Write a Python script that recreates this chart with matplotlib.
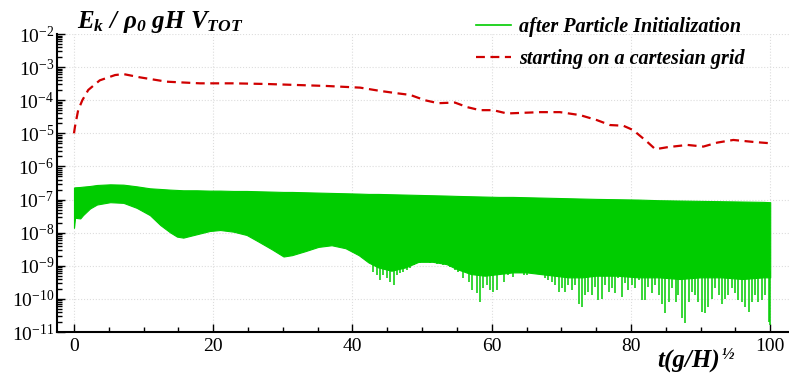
import numpy as np
import matplotlib.pyplot as plt
from matplotlib.lines import Line2D
from matplotlib.ticker import LogLocator, MultipleLocator, NullFormatter

plt.rcParams['font.family'] = ['Liberation Serif', 'DejaVu Serif']
plt.rcParams['mathtext.fontset'] = 'custom'
plt.rcParams['mathtext.default'] = 'regular'
plt.rcParams['mathtext.rm'] = 'Liberation Serif:italic:bold'
plt.rcParams['mathtext.it'] = 'Liberation Serif:italic:bold'
plt.rcParams['mathtext.bf'] = 'Liberation Serif:bold'

# red dashed curve (log10 of Ek)
t_red = [0, 0.14, 0.6, 1.2, 2.05, 3.7, 5.9, 7.1, 9.5, 13.3, 18.1, 22.9, 27.7, 32.0,
         36.3, 41.1, 44.0, 46.4, 48.3, 50.4, 52.3, 54.7, 56.5, 58.3, 60.2, 62.2, 64.5,
         67.0, 69.8, 72.7, 75.1, 77.0, 78.9, 80.3, 82.3, 83.5, 85.2, 88.1, 90.4, 92.4,
         94.7, 97.6, 100.0]
e_red = [-5.0, -4.8, -4.3, -4.0, -3.69, -3.40, -3.24, -3.21, -3.31, -3.44, -3.49, -3.49,
         -3.51, -3.54, -3.57, -3.62, -3.72, -3.79, -3.84, -4.0, -4.09, -4.07, -4.21, -4.30,
         -4.30, -4.40, -4.38, -4.36, -4.36, -4.45, -4.60, -4.75, -4.77, -4.90, -5.25, -5.48,
         -5.42, -5.35, -5.40, -5.28, -5.20, -5.26, -5.30]

# green band: upper and lower envelope (log10)
t_env = [0, 0.15, 0.9, 1.3, 2.3, 3.3, 5.2, 7.1, 9.0, 10.9, 12.4, 13.8, 14.8, 15.7, 17.6,
         19.5, 21.0, 22.9, 24.8, 26.5, 28.4, 30.1, 31.3, 33.2, 35.1, 37.0, 39.0, 40.9,
         42.3, 43.7, 45.6, 47.6, 49.5, 51.5, 53.5, 55.0, 57.0, 59.0, 61.0, 63.0, 65.0,
         67.0, 69.0, 71.0, 73.0, 75.0, 78.0, 81.0, 84.0, 87.0, 90.0, 93.0, 96.0, 99.0, 100.0]
e_up = [-6.64, -6.63, -6.62, -6.61, -6.59, -6.56, -6.54, -6.55, -6.60, -6.66, -6.68, -6.70,
        -6.71, -6.72, -6.72, -6.73, -6.73, -6.74, -6.74, -6.75, -6.76, -6.77, -6.77, -6.78,
        -6.79, -6.80, -6.81, -6.82, -6.83, -6.83, -6.84, -6.85, -6.86, -6.87, -6.88, -6.89,
        -6.90, -6.91, -6.92, -6.92, -6.93, -6.94, -6.95, -6.96, -6.97, -6.98, -6.99, -7.00,
        -7.02, -7.03, -7.04, -7.05, -7.06, -7.07, -7.08]
e_low = [-7.85, -7.55, -7.57, -7.47, -7.27, -7.15, -7.08, -7.10, -7.25, -7.47, -7.77, -7.99,
         -8.12, -8.15, -8.05, -7.95, -7.92, -7.97, -8.07, -8.27, -8.50, -8.72, -8.68, -8.56,
         -8.43, -8.38, -8.47, -8.68, -8.90, -9.05, -9.15, -9.05, -8.88, -8.88, -8.95, -9.10,
         -9.25, -9.30, -9.25, -9.20, -9.20, -9.25, -9.30, -9.35, -9.35, -9.30, -9.30, -9.35,
         -9.35, -9.40, -9.35, -9.35, -9.40, -9.35, -9.35]

# spikes below the band (log10 of minima)
t_spk = [42.5, 43.0, 43.5, 44.0, 44.4, 44.9, 45.4, 45.9, 46.4, 46.8, 47.3, 47.8, 48.3, 48.8,
         49.2, 49.7, 50.2, 51.15, 52.1, 53.06, 54.0, 54.7, 55.2, 55.9, 56.7, 57.1, 57.6,
         57.9, 58.3, 58.8, 59.3, 59.8, 60.2, 60.7, 61.2, 61.7, 62.4, 63.1, 63.6, 64.1, 64.6,
         65.0, 65.8, 66.2, 66.7, 67.2, 67.7, 68.1, 68.6, 69.1, 69.6, 70.1, 70.5, 71.0, 71.5,
         72.0, 72.5, 72.9, 73.4, 73.9, 74.4, 74.9, 75.3, 75.8, 76.3, 76.8, 77.3, 77.7, 78.2,
         78.7, 79.2, 79.6, 80.1, 80.6, 81.1, 81.6, 82.0, 82.5, 83.0, 83.5, 84.0, 84.4, 84.9,
         85.4, 85.9, 86.4, 86.8, 87.3, 87.8, 88.3, 88.7, 89.2, 89.7, 90.2, 90.7, 91.1, 91.6,
         92.1, 92.6, 93.1, 93.5, 94.0, 94.5, 95.0, 95.4, 95.9, 96.4, 96.9, 97.4, 97.8, 98.3,
         98.8, 99.3, 99.8, 100.0]
e_spk = [-8.93, -9.18, -9.28, -9.43, -9.28, -9.38, -9.48, -9.58, -9.28, -9.23, -9.18, -9.13,
         -9.08, -8.98, -8.93, -8.93, -8.88, -8.93, -8.96, -8.98, -9.03, -9.13, -9.18, -9.38,
         -9.48, -9.73, -9.28, -9.83, -10.09, -9.68, -9.58, -9.73, -9.78, -9.73, -9.28, -9.48,
         -9.28, -9.33, -9.13, -9.23, -9.28, -9.28, -9.23, -9.18, -9.05, -9.28, -9.38, -9.43,
         -9.48, -9.58, -9.78, -9.68, -9.78, -9.58, -9.73, -9.58, -10.14, -10.24, -9.89, -9.78,
         -9.89, -9.63, -10.04, -9.99, -9.58, -9.78, -9.68, -9.83, -9.38, -9.94, -9.53, -9.73,
         -9.58, -9.68, -9.43, -10.04, -10.04, -9.63, -9.83, -9.58, -9.89, -10.14, -10.44,
         -10.09, -9.68, -10.09, -9.89, -10.59, -10.74, -10.09, -9.78, -9.89, -10.09, -10.39,
         -10.44, -10.24, -9.99, -9.68, -9.89, -10.14, -9.99, -9.89, -9.68, -9.83, -10.04,
         -10.09, -10.24, -10.39, -10.09, -9.89, -10.09, -10.04, -9.89, -10.69, -10.8]

green = '#00cc00'
red = '#d00000'

fig = plt.figure(figsize=(7.89, 3.76), dpi=100)
ax = fig.add_axes([57/789, 44/376, 732/789, 298/376])

t_env = np.array(t_env)
ax.fill_between(t_env, 10**np.array(e_low), 10**np.array(e_up), color=green, lw=0.8)
top = np.interp(t_spk, t_env, e_low) + 0.2
ax.vlines(t_spk, 10**np.array(e_spk), 10**top, color=green, lw=1.1)
ax.plot(t_red, 10**np.array(e_red), color=red, lw=1.6, dashes=(4, 2.5))

ax.set_yscale('log')
ax.set_xlim(-2.44, 102.7)
ax.set_ylim(1e-11, 1e-2)

ax.yaxis.set_major_locator(LogLocator(base=10, numticks=20))
ax.yaxis.set_minor_locator(LogLocator(base=10, subs=np.arange(2, 10), numticks=20))
ax.yaxis.set_minor_formatter(NullFormatter())
ax.xaxis.set_major_locator(MultipleLocator(20))
ax.xaxis.set_minor_locator(MultipleLocator(5))

ax.spines['top'].set_visible(False)
ax.spines['right'].set_visible(False)
ax.spines['left'].set_linewidth(1.5)
ax.spines['bottom'].set_linewidth(1.5)
ax.tick_params(which='both', direction='in', labelsize=14, width=1.0)
ax.tick_params(which='major', length=6)
ax.tick_params(which='minor', length=3.5)
ax.tick_params(axis='y', pad=2)
ax.tick_params(axis='x', pad=4)
ax.grid(True, which='major', ls=':', color='#dddddd', lw=0.8)
ax.set_axisbelow(True)

fig.text(77/789, 1-28/376, r'$\mathit{E_k\ /\ \rho_0\ gH\ V_{TOT}}$', fontsize=18)

fig.text(657/789, 1-368/376, 't(g/H)', fontsize=18, fontweight='bold', fontstyle='italic')
fig.text(722/789, 1-358/376, '\u00bd', fontsize=12, fontweight='bold', fontstyle='italic')

handles = [Line2D([], [], color=green, lw=1.2),
           Line2D([], [], color=red, lw=1.6, dashes=(4, 2.5))]
labels = ['after Particle Initialization', 'starting on a cartesian grid']
ax.legend(handles, labels, loc='upper left', bbox_to_anchor=(466/789, 1-7/376),
          bbox_transform=fig.transFigure, frameon=False, borderpad=0, handlelength=1.75,
          handletextpad=0.4, labelspacing=0.6,
          prop={'family': 'Liberation Serif', 'weight': 'bold', 'style': 'italic', 'size': 14.5})

fig.savefig('out.png', dpi=100)
